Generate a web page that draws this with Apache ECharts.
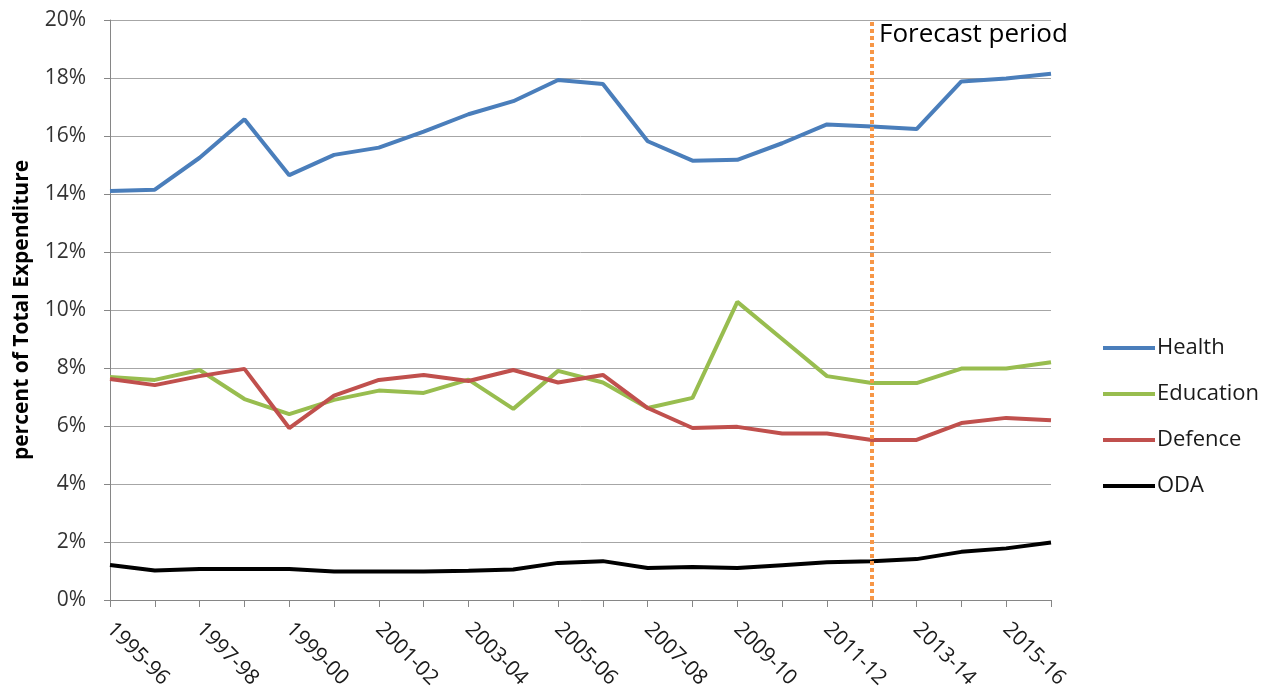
<!DOCTYPE html>
<html>
<head>
<meta charset="utf-8">
<script src="https://cdn.jsdelivr.net/npm/echarts@6/dist/echarts.min.js"></script>
<style>
  html, body { margin: 0; padding: 0; background: #fff; }
  #chart { width: 1268px; height: 697px; }
</style>
</head>
<body>
<div id="chart"></div>
<script>
var years = ['1995-96','1996-97','1997-98','1998-99','1999-00','2000-01','2001-02','2002-03',
    '2003-04','2004-05','2005-06','2006-07','2007-08','2008-09','2009-10','2010-11',
    '2011-12','2012-13','2013-14','2014-15','2015-16','2016-17'];
var health = [14.1,14.15,15.25,16.58,14.65,15.35,15.6,16.15,16.75,17.2,17.93,17.79,
    15.82,15.15,15.18,15.75,16.4,16.33,16.24,17.88,17.98,18.15];
var education = [7.69,7.59,7.93,6.93,6.41,6.9,7.22,7.14,7.6,6.59,7.9,7.5,
    6.62,6.97,10.28,9.0,7.72,7.48,7.48,7.98,7.98,8.2];
var defence = [7.62,7.41,7.72,7.97,5.93,7.05,7.59,7.76,7.55,7.93,7.5,7.76,
    6.62,5.93,5.97,5.74,5.74,5.52,5.52,6.1,6.28,6.2];
var oda = [1.21,1.02,1.07,1.07,1.07,0.98,0.98,0.98,1.01,1.05,1.28,1.34,
    1.1,1.14,1.1,1.2,1.3,1.34,1.41,1.66,1.78,1.98];
var forecastStart = '2012-13';

var chart = echarts.init(document.getElementById('chart'));
var font = 'Open Sans';

function line(name, data, color) {
    return {
        name: name,
        type: 'line',
        data: data,
        symbol: 'none',
        lineStyle: {color: color, width: 4},
        itemStyle: {color: color},
        z: 3
    };
}

var series = [
    line('Health', health, '#4A7EBB'),
    line('Education', education, '#98BD4F'),
    line('Defence', defence, '#C0504D'),
    line('ODA', oda, '#000000')
];
// forecast divider
series[0].markLine = {
    silent: true,
    symbol: 'none',
    label: {show: false},
    lineStyle: {color: '#F79646', type: [4, 3], width: 4},
    data: [{xAxis: forecastStart}]
};

var option = {
    backgroundColor: '#fff',
    animation: false,
    grid: {left: 110, right: 217, top: 20, bottom: 97},
    legend: {
        orient: 'vertical',
        left: 1098,
        top: 332,
        itemWidth: 52,
        itemHeight: 4,
        itemGap: 24,
        icon: 'rect',
        textStyle: {fontFamily: font, fontSize: 22, color: '#1a1a1a', padding: [0, 0, 0, -3]},
        data: ['Health', 'Education', 'Defence', 'ODA']
    },
    xAxis: {
        type: 'category',
        data: years,
        boundaryGap: false,
        axisLine: {lineStyle: {color: '#868686', width: 1}},
        axisTick: {show: true, interval: 0, length: 7, lineStyle: {color: '#868686'}},
        axisLabel: {
            interval: 1,
            rotate: -45,
            margin: 26,
            fontFamily: font,
            fontSize: 21,
            color: '#1a1a1a'
        },
        splitLine: {show: false}
    },
    yAxis: {
        type: 'value',
        min: 0,
        max: 20,
        interval: 2,
        name: 'percent of Total Expenditure',
        nameLocation: 'middle',
        nameGap: 77,
        nameTextStyle: {fontFamily: font, fontSize: 21, fontWeight: 'bold', color: '#000'},
        axisLine: {show: true, lineStyle: {color: '#868686', width: 1}},
        axisTick: {show: true, inside: false, length: 6, lineStyle: {color: '#868686'}},
        axisLabel: {
            formatter: '{value}%',
            margin: 24,
            fontFamily: font,
            fontSize: 21,
            color: '#333'
        },
        splitLine: {lineStyle: {color: '#A6A6A6', width: 1}}
    },
    graphic: [{
        type: 'text',
        left: 879,
        top: 22,
        style: {text: 'Forecast period', font: '26px "Open Sans"', fill: '#000'}
    }],
    series: series
};
chart.setOption(option);
</script>
</body>
</html>
